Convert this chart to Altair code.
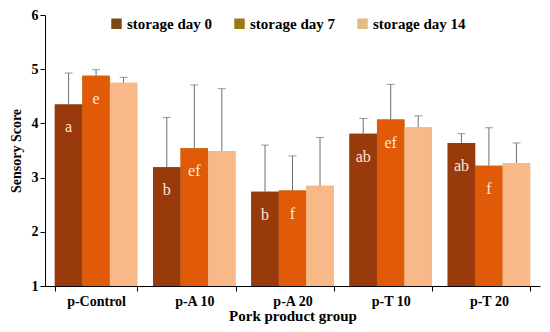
import altair as alt
import pandas as pd

groups = ["p-Control", "p-A 10", "p-A 20", "p-T 10", "p-T 20"]
series = ["storage day 0", "storage day 7", "storage day 14"]
day0 = [4.35, 3.19, 2.74, 3.81, 3.64]
day7 = [4.88, 3.54, 2.76, 4.07, 3.22]
day14 = [4.75, 3.49, 2.85, 3.93, 3.27]
err0 = [4.93, 4.11, 3.60, 4.09, 3.81]
err7 = [4.99, 4.71, 3.40, 4.72, 3.92]
err14 = [4.85, 4.64, 3.74, 4.14, 3.64]
let0 = ["a", "b", "b", "ab", "ab"]
let7 = ["e", "ef", "f", "ef", "f"]
let14 = ["", "", "", "", ""]

bar_colors = ["#993A0C", "#E05A08", "#F8B888"]
legend_colors = ["#7A4A12", "#9A7A12", "#E2BC80"]

rows = []
for vals, errs, lets, s in [(day0, err0, let0, series[0]), (day7, err7, let7, series[1]), (day14, err14, let14, series[2])]:
    for g, v, e, l in zip(groups, vals, errs, lets):
        rows.append({"group": g, "series": s, "value": v, "err": e, "letter": l})
df = pd.DataFrame(rows)

FONT = "Liberation Serif"

x = alt.X("group:N", sort=groups, title="Pork product group",
          scale=alt.Scale(paddingInner=0.16, paddingOuter=0.1),
          axis=alt.Axis(labelAngle=0, tickBand="extent", labelFont=FONT, labelFontWeight="bold",
                        labelFontSize=14, labelColor="#000", titleFont=FONT, titleFontSize=15,
                        titleFontWeight="bold", titleColor="#000", domainColor="#000",
                        tickColor="#000", tickSize=5, titlePadding=0, labelPadding=3))
xo = alt.XOffset("series:N", sort=series)
y_scale = alt.Scale(domain=[1, 6], nice=False)

base = alt.Chart(df)

legend_layer = base.mark_bar().encode(
    x=x, xOffset=xo,
    y=alt.Y("value:Q", scale=y_scale),
    y2=alt.datum(1),
    color=alt.Color("series:N", sort=series,
                    scale=alt.Scale(domain=series, range=legend_colors),
                    legend=alt.Legend(title=None, orient="none", legendX=64, legendY=1,
                                      direction="horizontal", symbolType="square",
                                      symbolSize=110, symbolStrokeWidth=0, labelFont=FONT,
                                      labelFontSize=15, labelFontWeight="bold", labelColor="#000",
                                      columnPadding=20, labelOffset=3)),
)

bars = base.mark_bar().encode(
    x=x, xOffset=xo,
    y=alt.Y("value:Q", scale=y_scale, title="Sensory Score",
            axis=alt.Axis(values=[1, 2, 3, 4, 5, 6], grid=False, labelFont=FONT,
                          labelFontWeight="bold", labelFontSize=14, labelColor="#000",
                          titleFont=FONT, titleFontSize=14, titleFontWeight="bold",
                          titleColor="#000", domainColor="#000", tickColor="#000",
                          tickSize=5, titlePadding=8)),
    y2=alt.datum(1),
    color=alt.Color("series:N", sort=series,
                    scale=alt.Scale(domain=series, range=bar_colors), legend=None),
)

rules = base.mark_rule(color="#6e6e6e", strokeWidth=1).encode(
    x=x, xOffset=xo, y=alt.Y("value:Q", scale=y_scale), y2="err:Q")

caps = base.mark_tick(color="#6e6e6e", thickness=1, size=8, orient="horizontal").encode(
    x=x, xOffset=xo, y=alt.Y("err:Q", scale=y_scale))

texts = base.mark_text(color="#FFE4D6", font=FONT, fontSize=16, dy=23).encode(
    x=x, xOffset=xo, y=alt.Y("value:Q", scale=y_scale), text="letter:N")

chart = alt.layer(legend_layer, bars, rules, caps, texts).resolve_scale(
    color="independent"
).properties(
    width=495, height=271,
    padding={"left": 37, "top": 7, "right": 2, "bottom": 38},
    autosize=alt.AutoSizeParams(type="none"),
).configure_view(stroke=None)

chart.save("out.html", embed_options={"renderer": "svg", "actions": False})
